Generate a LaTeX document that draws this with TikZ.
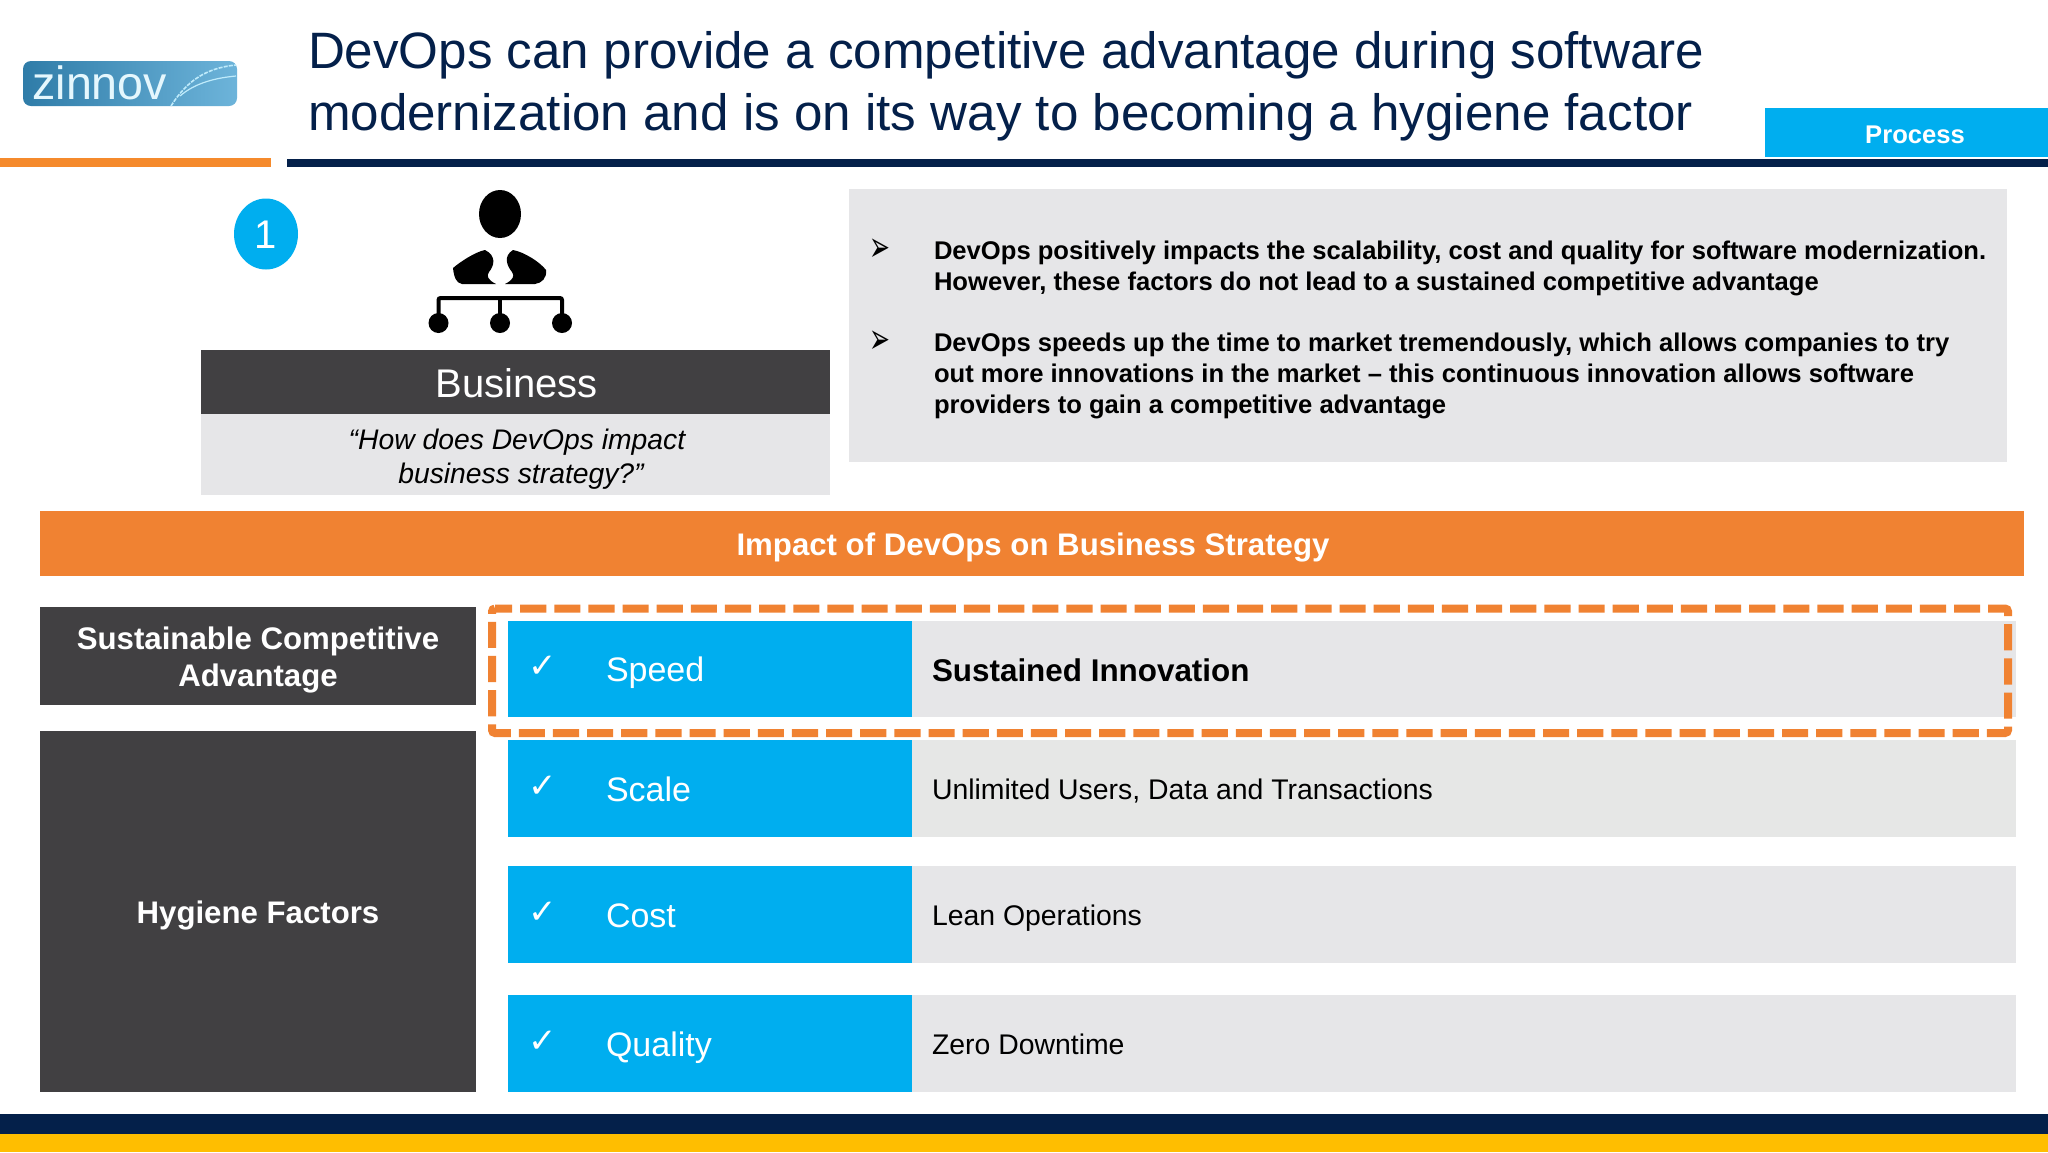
\documentclass[tikz,border=0pt]{standalone}
\usepackage{graphicx}
\usepackage{fontspec}
\setmainfont{Liberation Sans}
\newfontfamily\symfont{DejaVu Sans}
\usetikzlibrary{shadings}
\definecolor{navy}{HTML}{04204A}
\definecolor{barorange}{HTML}{F08232}
\definecolor{topor}{HTML}{F58A2C}
\definecolor{cyanb}{HTML}{00AEEF}
\definecolor{darkg}{HTML}{414042}
\definecolor{lightg}{HTML}{E6E6E8}
\definecolor{lightg2}{HTML}{E6E7E6}
\definecolor{yell}{HTML}{FFBE00}
\definecolor{logoa}{HTML}{2F7CA8}
\definecolor{logob}{HTML}{6DB4DA}
\newcommand{\fs}[1]{\fontsize{#1}{#1}\selectfont}
\tikzset{
  x=0.5pt,y=-0.5pt,
  lbl/.style={inner sep=0,outer sep=0,font=\fs{14.2},text=black,anchor=base west},
  met/.style={inner sep=0,outer sep=0,font=\fs{17},text=white,anchor=base west},
  chk/.style={inner sep=0,outer sep=0,font=\symfont\fs{17},text=white,anchor=center},
  body/.style={inner sep=0,outer sep=0,font=\bfseries\fs{12.8},text=black,anchor=base west},
  bul/.style={inner sep=0,outer sep=0,font=\symfont\fs{12.5},text=black,anchor=center},
  capt/.style={inner sep=0,outer sep=0,font=\bfseries\fs{15.6},text=white,align=center,anchor=center},
  ttl/.style={inner sep=0,outer sep=0,font=\fs{25.58},text=navy,anchor=base west},
  quot/.style={inner sep=0,outer sep=0,font=\itshape\fs{14.15},text=black,anchor=center},
}
\begin{document}
\begin{tikzpicture}
\useasboundingbox (0,0) rectangle (2048,1152);
\fill[white] (0,0) rectangle (2048,1152);
% logo
\shade[left color=logoa,right color=logob,rounded corners=4pt] (23,61) rectangle (237,106);
\node[inner sep=0,font=\fs{23.3},text=white!90!cyanb,anchor=base west] (logotext) at (32,99) {zinnov};
\draw[white!75!cyanb,line width=0.8pt,dash pattern=on 2pt off 0.6pt] (171,106) .. controls (186,82) and (205,68) .. (236,65);
\draw[white!75!cyanb,line width=0.6pt] (180,96) .. controls (195,83) and (215,78) .. (236,76);
% header
\node[ttl] (t1) at (308,68) {DevOps can provide a competitive advantage during software};
\node[ttl] (t2) at (308,130) {modernization and is on its way to becoming a hygiene factor};
\fill[topor] (0,158) rectangle (271,167);
\fill[navy] (287,159) rectangle (2048,167);
\fill[cyanb] (1765,108) rectangle (2048,157);
\node[inner sep=0,font=\bfseries\fs{12.8},text=white] (process) at (1915,135) {Process};
% circle 1
\fill[cyanb] (266,234) ellipse [x radius=32,y radius=35.5];
\node[inner sep=0,font=\fs{20},text=white] (one) at (266,235) {1};
% icon
\fill[black] (500,214) ellipse [x radius=21,y radius=24];
\fill[black] (485,250) .. controls (475,252) and (460,262) .. (453,268) .. controls (454,277) and (456,283) .. (462,284) -- (496,284) .. controls (488,280) and (486,276) .. (489,272) .. controls (494,266) and (497,256) .. (485,250) -- cycle;
\fill[black] (513,250) .. controls (524,252) and (540,262) .. (546,270) .. controls (547,278) and (542,283) .. (535,284) -- (505,284) .. controls (513,280) and (515,276) .. (512,272) .. controls (507,266) and (503,256) .. (513,250) -- cycle;
\draw[black,line width=2pt,rounded corners=1pt] (438.5,320) -- (438.5,298) -- (562,298) -- (562,320);
\draw[black,line width=2pt] (500,298) -- (500,320);
\fill[black] (438.5,323) circle (10);
\fill[black] (500,323) circle (10);
\fill[black] (562,323) circle (10);
% business
\fill[lightg] (201,414) rectangle (830,495);
\fill[darkg] (201,350) rectangle (830,414);
\node[inner sep=0,font=\fs{20},text=white] (biz) at (516.5,383) {Business};
\node[quot] (q1) at (517,442) {“How does DevOps impact};
\node[quot] (q2) at (521,476) {business strategy?”};
% panel
\fill[lightg] (849,189) rectangle (2007,462);
\node[bul] (b1) at (880,250) {\scalebox{1}[1.7]{➢}};
\node[bul] (b2) at (880,342) {\scalebox{1}[1.7]{➢}};
\node[body] (l1) at (934,259) {DevOps positively impacts the scalability, cost and quality for software modernization.};
\node[body] (l2) at (934,290) {However, these factors do not lead to a sustained competitive advantage};
\node[body] (l3) at (934,351) {DevOps speeds up the time to market tremendously, which allows companies to try};
\node[body] (l4) at (934,382) {out more innovations in the market – this continuous innovation allows software};
\node[body] (l5) at (934,413) {providers to gain a competitive advantage};
% banner
\fill[barorange] (40,511) rectangle (2024,576);
\node[capt] (banner) at (1033,547) {Impact of DevOps on Business Strategy};
% left
\fill[darkg] (40,607) rectangle (476,705);
\node[capt] (sca) at (258,660) {Sustainable Competitive\\[3.2pt]Advantage};
\fill[darkg] (40,731) rectangle (476,1092);
\node[capt] (hyg) at (258,915) {Hygiene Factors};
% rows
\fill[lightg] (912,621) rectangle (2016,717);
\fill[lightg2] (912,740) rectangle (2016,837);
\fill[lightg] (912,866) rectangle (2016,963);
\fill[lightg] (912,995) rectangle (2016,1092);
\fill[cyanb] (508,621) rectangle (912,717);
\fill[cyanb] (508,740) rectangle (912,837);
\fill[cyanb] (508,866) rectangle (912,963);
\fill[cyanb] (508,995) rectangle (912,1092);
\node[chk] (c1) at (543,667) {✓};
\node[chk] (c2) at (543,787) {✓};
\node[chk] (c3) at (543,913) {✓};
\node[chk] (c4) at (543,1042) {✓};
\node[met] (m1) at (606,681) {Speed};
\node[met] (m2) at (606,801) {Scale};
\node[met] (m3) at (606,927) {Cost};
\node[met] (m4) at (606,1056) {Quality};
\node[lbl,font=\bfseries\fs{15.7}] (d1) at (932,681) {Sustained Innovation};
\node[lbl] (d2) at (932,799) {Unlimited Users, Data and Transactions};
\node[lbl] (d3) at (932,925) {Lean Operations};
\node[lbl] (d4) at (932,1054) {Zero Downtime};
% dashed box
\draw[barorange,line width=4pt,dash pattern=on 13.07pt off 4pt,dash phase=4.5pt,rounded corners=1.5pt] (492,608.5) -- (2008,608.5) -- (2008,733) -- (492,733) -- cycle;
% footer
\fill[navy] (0,1114) rectangle (2048,1134);
\fill[yell] (0,1134) rectangle (2048,1152);
\end{tikzpicture}
\end{document}
